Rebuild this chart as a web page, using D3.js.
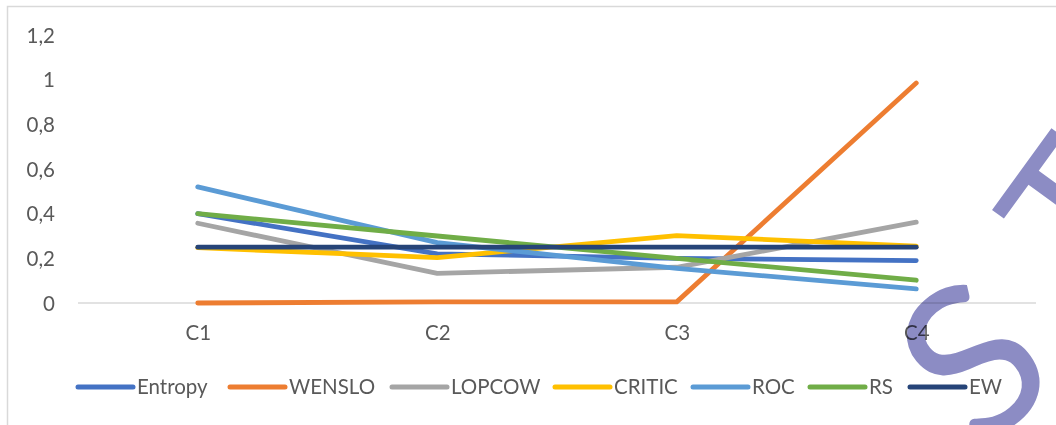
<!DOCTYPE html>
<html>
<head>
<meta charset="utf-8">
<script src="https://cdn.jsdelivr.net/npm/d3@7"></script>
<style>
  html, body { margin: 0; padding: 0; background: #fff; }
  svg { display: block; }
  text { font-family: Lato, "Open Sans", sans-serif; fill: #595959; }
</style>
</head>
<body>
<svg id="chart" width="1056" height="425"></svg>
<script>
// ---- data ----
const categories = ["C1", "C2", "C3", "C4"];
const seriesNames = ["Entropy", "WENSLO", "LOPCOW", "CRITIC", "ROC", "RS", "EW"];
const entropy = [0.40, 0.22, 0.20, 0.19];
const wenslo  = [0.00, 0.005, 0.005, 0.985];
const lopcow  = [0.357, 0.133, 0.16, 0.362];
const critic  = [0.248, 0.203, 0.302, 0.255];
const roc     = [0.52, 0.27, 0.155, 0.063];
const rs      = [0.40, 0.30, 0.20, 0.102];
const ew      = [0.25, 0.25, 0.25, 0.25];
const yTicks  = [0, 0.2, 0.4, 0.6, 0.8, 1, 1.2];
const watermarkLetters = ["S", "T"];

const seriesValues = [entropy, wenslo, lopcow, critic, roc, rs, ew];
const colors = ["#4472C4", "#ED7D31", "#A5A5A5", "#FFC000", "#5B9BD5", "#70AD47", "#264478"];
const fontSize = "20.5px";

const svg = d3.select("#chart");

// chart border
svg.append("rect")
  .attr("x", 7.5).attr("y", 6.5)
  .attr("width", 1060).attr("height", 430)
  .attr("fill", "none").attr("stroke", "#D9D9D9").attr("stroke-width", 1.5);

const x = d3.scalePoint().domain(categories).range([78, 1036]).padding(0.5);
const y = d3.scaleLinear().domain([0, 1.2]).range([303, 35]);

// y axis labels
const yAxis = d3.axisLeft(y).tickValues(yTicks)
  .tickFormat(d => String(d).replace(".", ","))
  .tickSize(0).tickPadding(0);
const yg = svg.append("g").attr("transform", "translate(55,0)").call(yAxis);
yg.select(".domain").remove();
yg.selectAll("text").style("font-size", fontSize).attr("fill", "#595959")
  .style("font-family", "Lato, sans-serif").attr("dy", "0.35em");

// baseline
svg.append("line")
  .attr("x1", 78).attr("x2", 1036)
  .attr("y1", y(0)).attr("y2", y(0))
  .attr("stroke", "#D9D9D9").attr("stroke-width", 1.5);

// x axis labels
const xAxis = d3.axisBottom(x).tickSize(0).tickPadding(0);
const xg = svg.append("g").attr("transform", "translate(0,333)").call(xAxis);
xg.select(".domain").remove();
xg.selectAll("text").style("font-size", fontSize).attr("fill", "#595959")
  .style("font-family", "Lato, sans-serif").attr("dy", "0.35em").attr("y", 0);

// lines
const line = d3.line().x((d, i) => x(categories[i])).y(d => y(d));
seriesValues.forEach((vals, i) => {
  svg.append("path")
    .attr("d", line(vals))
    .attr("fill", "none")
    .attr("stroke", colors[i])
    .attr("stroke-width", 4.8)
    .attr("stroke-linecap", "round")
    .attr("stroke-linejoin", "round");
});

// legend
const legendX = [78, 230, 392, 555, 693, 810, 910];
const legendY = 387;
const lg = svg.append("g");
seriesNames.forEach((name, i) => {
  lg.append("line")
    .attr("x1", legendX[i]).attr("x2", legendX[i] + 55)
    .attr("y1", legendY).attr("y2", legendY)
    .attr("stroke", colors[i]).attr("stroke-width", 5)
    .attr("stroke-linecap", "round");
  lg.append("text")
    .attr("x", legendX[i] + 59).attr("y", legendY)
    .attr("dy", "0.35em")
    .style("font-size", fontSize)
    .text(name);
});

// watermark (multiply-blended stamp letters)
const wm = svg.append("g");
wm.append("text")
  .attr("transform", "translate(1021,418) rotate(-40)")
  .attr("text-anchor", "middle")
  .style("font-size", "210px")
  .style("fill", "#8C8CC4")
  .style("mix-blend-mode", "multiply")
  .text(watermarkLetters[0]);
wm.append("text")
  .attr("transform", "translate(1126,245) rotate(-54)")
  .attr("text-anchor", "middle")
  .style("font-size", "180px")
  .style("fill", "#8C8CC4")
  .style("mix-blend-mode", "multiply")
  .text(watermarkLetters[1]);
</script>
</body>
</html>
